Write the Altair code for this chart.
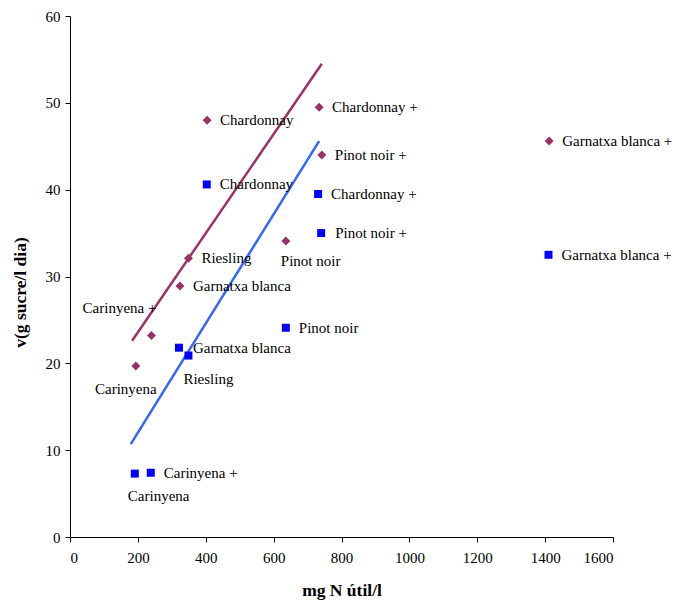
import altair as alt
import pandas as pd

wines = ["Chardonnay", "Chardonnay +", "Pinot noir +", "Pinot noir", "Riesling",
         "Garnatxa blanca", "Carinyena +", "Carinyena", "Garnatxa blanca +"]

# series 1 (diamonds)
n_diamond = [404, 734, 742, 636, 349, 324, 240, 194, 1412]
v_diamond = [48.0, 49.5, 44.0, 34.1, 32.1, 28.9, 23.2, 19.7, 45.6]
# series 2 (squares)
n_square = [403, 731, 740, 636, 349, 321, 238, 191, 1410]
v_square = [40.6, 39.5, 35.0, 24.1, 20.9, 21.8, 7.4, 7.3, 32.5]

# trend lines (endpoints)
trend_diamond_n = [183, 742]
trend_diamond_v = [22.6, 54.5]
trend_square_n = [179, 734]
trend_square_v = [10.7, 45.6]

x_ticks = [0, 200, 400, 600, 800, 1000, 1200, 1400, 1600]
y_ticks = [0, 10, 20, 30, 40, 50, 60]

# label placement (dx, dy, align)
place_diamond = [(13, 0, "left"), (13, 0, "left"), (13, 0, "left"), (-5, 20, "left"),
                 (13, 0, "left"), (13, 0, "left"), (5, -28, "right"), (-10, 23, "center"),
                 (13, 0, "left")]
place_square = [(13, 0, "left"), (13, 0, "left"), (14, 0, "left"), (13, 0, "left"),
                (-5, 23, "left"), (14, 0, "left"), (13, 0, "left"), (-7, 22, "left"),
                (13, 0, "left")]

MAROON = "#993366"
BLUE = "#0000FF"
BLUE_LINE = "#3366FF"
FONT = "Liberation Serif"

xs = alt.Scale(domain=[0, 1600], nice=False)
ys = alt.Scale(domain=[0, 60], nice=False)

X = alt.X("n:Q", scale=xs, axis=alt.Axis(values=x_ticks, format="d", title="mg N útil/l",
                                         titlePadding=16, labelPadding=8))
Y = alt.Y("v:Q", scale=ys, axis=alt.Axis(values=y_ticks, format="d", title="v(g sucre/l dia)",
                                         titlePadding=16, labelPadding=5, titleY=276))

df_d = pd.DataFrame({"n": n_diamond, "v": v_diamond, "wine": wines})
df_s = pd.DataFrame({"n": n_square, "v": v_square, "wine": wines})
df_td = pd.DataFrame({"n": trend_diamond_n, "v": trend_diamond_v})
df_ts = pd.DataFrame({"n": trend_square_n, "v": trend_square_v})

layers = []
layers.append(alt.Chart(df_td).mark_line(color=MAROON, strokeWidth=2.5).encode(x=X, y=Y))
layers.append(alt.Chart(df_ts).mark_line(color=BLUE_LINE, strokeWidth=2.5).encode(x=X, y=Y))
layers.append(alt.Chart(df_d).mark_point(shape="diamond", filled=True, size=81, color=MAROON, opacity=1).encode(x=X, y=Y))
layers.append(alt.Chart(df_s).mark_point(shape="square", filled=True, size=64, color=BLUE, opacity=1).encode(x=X, y=Y))

for df, places in ((df_d, place_diamond), (df_s, place_square)):
    for i, (dx, dy, al) in enumerate(places):
        row = df.iloc[[i]]
        layers.append(
            alt.Chart(row).mark_text(dx=dx, dy=dy, align=al, baseline="middle",
                                     font=FONT, fontSize=15, color="black")
            .encode(x=X, y=Y, text="wine:N")
        )

chart = alt.layer(*layers).properties(
    width=543, height=521,
    autosize=alt.AutoSizeParams(type="none"),
    padding={"left": 62, "top": 8, "right": 61, "bottom": 64},
).configure_view(stroke=None).configure_axis(
    grid=False, domainColor="black", tickColor="black", tickSize=5,
    labelFont=FONT, labelFontSize=15, labelColor="black",
    titleFont=FONT, titleFontSize=17.5, titleFontWeight="bold", titleColor="black",
)

chart.save("out.html", embed_options={"renderer": "svg", "actions": False})
